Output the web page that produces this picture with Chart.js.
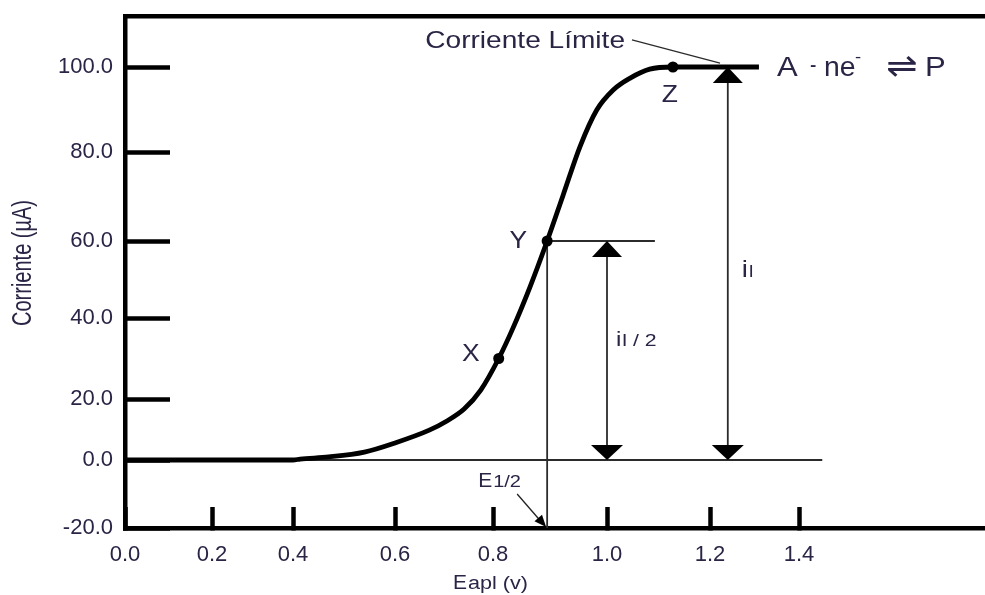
<!DOCTYPE html>
<html>
<head>
<meta charset="utf-8">
<title>Onda polarográfica</title>
<script src="https://cdn.jsdelivr.net/npm/chart.js@4.4.0/dist/chart.umd.min.js"></script>
<style>
  html, body { margin: 0; padding: 0; background: #fff; }
  canvas { display: block; }
</style>
</head>
<body>
<canvas id="waveChart" width="985" height="595"></canvas>
<script>
// Curva corriente / potencial aplicado
const potential = [0, 0.2, 0.4, 0.414, 0.47, 0.54, 0.60, 0.67, 0.706, 0.741, 0.775, 0.81, 0.835, 0.865, 0.895, 0.923, 0.953, 0.982, 1.012, 1.045, 1.083, 1.128, 1.18, 1.31];
const current   = [0, 0, 0, 0.3, 1.0, 2.6, 5.6, 9.8, 12.8, 16.7, 22.2, 30, 37.5, 48.1, 60, 70.3, 81.4, 89.9, 94.6, 97.4, 99.5, 100, 100, 100];

// Puntos marcados sobre la curva
const pointNames = ['X', 'Y', 'Z'];
const pointE = [0.81, 0.895, 1.128];
const pointI = [30, 60, 100];

// Marcas de los ejes
const xTicks = [0, 0.2, 0.4, 0.6, 0.8, 1.0, 1.2, 1.4];
const yTicks = [-20, 0, 20, 40, 60, 80, 100];

// Potencial de media onda, corriente límite y semicorriente
const eHalf = 0.895;
const iHalf = 60;
const iLimit = 100;
const arrowE = [1.0, 1.24];     // flechas i_l/2 e i_l
const baseEnd = 1.45;           // fin de la línea i = 0
const halfLineEnd = 1.093;      // fin de la línea i = 60
const leaderFrom = [1.0485, 106.4];
const leaderTo = [1.2225, 100.9];
const limitLabelAt = [1.035, 104.5];
const ilHalfLabelAt = [1.0, 33];
const ilLabelAt = [1.24, 50.6];

// Área de dibujo y reparto no uniforme de las escalas (px de cada valor)
const plot = { left: 125, right: 985, top: 16, bottom: 528 };
const xWarp = { values: [0, 0.2, 0.4, 0.6, 0.8, 1.0, 1.2, 1.4, 1.8], px: [125, 212, 293, 395, 493, 607, 710, 799, 985] };
const yWarp = { values: [-20, 0, 20, 40, 60, 80, 100, 112], px: [528, 460, 399, 318, 241, 152, 67, 16] };

const family = "'Liberation Sans', Arial, sans-serif";
const textColor = '#2a2445';
const frameWidth = 4.5;

function interp(v, xs, ys) {
    let i = 1;
    while (i < xs.length - 1 && v > xs[i]) i++;
    const t = (v - xs[i - 1]) / (xs[i] - xs[i - 1]);
    return ys[i - 1] + t * (ys[i] - ys[i - 1]);
}

// Escala lineal por tramos
class WarpScale extends Chart.LinearScale {
    warp() {
        const w = this.axis === 'x' ? xWarp : yWarp;
        if (!w.dec) {
            w.dec = w.px.map(p => this.axis === 'x'
                ? (p - plot.left) / (plot.right - plot.left)
                : (plot.bottom - p) / (plot.bottom - plot.top));
        }
        return w;
    }
    getPixelForValue(value) {
        if (value === null || value === undefined || isNaN(value)) return NaN;
        const w = this.warp();
        return this.getPixelForDecimal(interp(value, w.values, w.dec));
    }
    getValueForPixel(pixel) {
        const w = this.warp();
        return interp(this.getDecimalForPixel(pixel), w.dec, w.values);
    }
}
WarpScale.id = 'warp';
WarpScale.defaults = {};
Chart.register(WarpScale);

function noPadding(s) {
    s.paddingLeft = s.paddingRight = s.paddingTop = s.paddingBottom = 0;
}

function line(c, x1, y1, x2, y2) {
    c.beginPath();
    c.moveTo(x1, y1);
    c.lineTo(x2, y2);
    c.stroke();
}

// punta de flecha con vértice en (x, y) apuntando según el ángulo
function head(c, x, y, angle, len, half) {
    c.save();
    c.translate(x, y);
    c.rotate(angle);
    c.beginPath();
    c.moveTo(0, 0);
    c.lineTo(-len, -half);
    c.lineTo(-len, half);
    c.closePath();
    c.fill();
    c.restore();
}

function text(c, str, x, y, size, opts = {}) {
    c.save();
    c.translate(x, y);
    c.scale(opts.sx || 1.15, 1);
    c.font = (opts.weight || 'normal') + ' ' + size + 'px ' + (opts.family || family);
    c.textAlign = opts.align || 'left';
    c.textBaseline = opts.baseline || 'alphabetic';
    c.fillStyle = opts.color || textColor;
    c.fillText(str, 0, 0);
    const w = c.measureText(str).width * (opts.sx || 1.15);
    c.restore();
    return w;
}

const annotations = {
    id: 'annotations',
    beforeDatasetsDraw(chart) {
        const { ctx: c, scales: { x, y } } = chart;
        const px = v => x.getPixelForValue(v);
        const py = v => y.getPixelForValue(v);
        c.save();
        c.strokeStyle = '#2b2b2b';
        c.fillStyle = '#000';
        c.lineWidth = 1.8;

        line(c, px(0), py(0), px(baseEnd), py(0));
        line(c, px(eHalf), py(iHalf), px(eHalf), py(-20));
        line(c, px(eHalf), py(iHalf), px(halfLineEnd), py(iHalf));

        [[arrowE[0], iHalf], [arrowE[1], iLimit]].forEach(([e, top]) => {
            const ax = px(e);
            line(c, ax, py(top) + 4, ax, py(0) - 4);
            head(c, ax, py(top), -Math.PI / 2, 16, 15);
            head(c, ax, py(0), Math.PI / 2, 15, 16);
        });

        c.lineWidth = 1.2;
        line(c, px(leaderFrom[0]), py(leaderFrom[1]), px(leaderTo[0]), py(leaderTo[1]));
        c.restore();
    },
    afterDatasetsDraw(chart) {
        const { ctx: c, scales: { x, y } } = chart;
        const px = v => x.getPixelForValue(v);
        const py = v => y.getPixelForValue(v);
        c.save();

        // X, Y, Z
        const offsets = [[-19, 2, 'right'], [-20, 7, 'right'], [-3, 35, 'center']];
        pointNames.forEach((name, i) => {
            const [dx, dy, align] = offsets[i];
            text(c, name, px(pointE[i]) + dx, py(pointI[i]) + dy, 23, { align });
        });

        text(c, 'Corriente Límite', px(limitLabelAt[0]), py(limitLabelAt[1]), 24, { align: 'right', sx: 1.17 });

        // A - ne⁻ ⇌ P
        const ex = px(1.31), ey = py(iLimit);
        text(c, 'A', ex + 18, ey + 9, 27);
        text(c, '-', ex + 51, ey + 5, 24, { sx: 0.8 });
        text(c, 'ne', ex + 65, ey + 9, 27, { sx: 1.05 });
        text(c, '-', ex + 96, ey - 5, 16);
        text(c, '\u21CC', ex + 127, ey + 1, 34, { family: "'DejaVu Sans', sans-serif", baseline: 'middle', sx: 1.1 });
        text(c, 'P', ex + 166, ey + 9, 27);

        // i_l/2 e i_l
        let ix = px(ilHalfLabelAt[0]) + 9, iy = py(ilHalfLabelAt[1]);
        ix += text(c, 'i', ix, iy, 21);
        text(c, 'l / 2', ix + 1, iy, 17, { sx: 1.25 });
        ix = px(ilLabelAt[0]) + 14; iy = py(ilLabelAt[1]);
        ix += text(c, 'i', ix, iy, 24);
        text(c, 'l', ix + 1, iy, 17);

        // E1/2 con flecha hacia el eje
        const tx = px(eHalf), ty = py(-20);
        const w = text(c, 'E', tx - 69, ty - 41, 21, { sx: 1.0 });
        text(c, '1/2', tx - 69 + w + 1, ty - 41, 16, { sx: 1.25 });
        c.strokeStyle = '#222';
        c.fillStyle = '#000';
        c.lineWidth = 1.3;
        line(c, tx - 30, ty - 34, tx - 4, ty - 4);
        head(c, tx - 1, ty - 1, Math.atan2(33, 29), 12, 5);

        // títulos de los ejes
        const ew = text(c, 'E', 453, 589, 21, { sx: 1.0 });
        text(c, 'apl (v)', 453 + ew + 1, 589, 18, { sx: 1.2 });

        c.translate(24, 263);
        c.rotate(-Math.PI / 2);
        c.scale(0.74, 1);
        c.font = '27px ' + family;
        c.textAlign = 'center';
        c.textBaseline = 'middle';
        c.fillStyle = textColor;
        c.fillText('Corriente (\u00B5A)', 0, 0);
        c.restore();
    }
};

const ctx = document.getElementById('waveChart').getContext('2d');
new Chart(ctx, {
    type: 'line',
    data: {
        datasets: [{
            data: potential.map((e, i) => ({ x: e, y: current[i] })),
            borderColor: '#000',
            borderWidth: 4.8,
            pointRadius: 0,
            cubicInterpolationMode: 'monotone',
            fill: false,
            order: 2
        }, {
            type: 'scatter',
            data: pointE.map((e, i) => ({ x: e, y: pointI[i] })),
            pointRadius: 5.5,
            pointBackgroundColor: '#000',
            pointBorderWidth: 0,
            order: 1
        }]
    },
    options: {
        responsive: false,
        animation: false,
        layout: { padding: { left: 0, right: 0, top: plot.top, bottom: 0 }, autoPadding: false },
        plugins: { legend: { display: false }, tooltip: { enabled: false } },
        scales: {
            x: {
                type: 'warp',
                position: 'bottom',
                min: 0,
                max: 1.8,
                border: { color: '#000', width: frameWidth },
                grid: { display: true, drawOnChartArea: false, drawTicks: true, tickLength: -21, tickWidth: frameWidth, tickColor: '#000' },
                ticks: {
                    font: { family: family, size: 22 },
                    color: textColor,
                    padding: 35,
                    maxRotation: 0,
                    autoSkip: false,
                    callback: v => Number(v).toFixed(1)
                },
                afterBuildTicks: s => { s.ticks = xTicks.map(v => ({ value: v })); },
                afterFit: s => { s.height = 595 - plot.bottom; noPadding(s); }
            },
            y: {
                type: 'warp',
                min: -20,
                max: 112,
                border: { color: '#000', width: frameWidth },
                grid: { display: true, drawOnChartArea: false, drawTicks: true, tickLength: -45, tickWidth: frameWidth, tickColor: '#000' },
                ticks: {
                    font: { family: family, size: 22 },
                    color: textColor,
                    padding: 57,
                    callback: v => Number(v).toFixed(1)
                },
                afterBuildTicks: s => { s.ticks = yTicks.map(v => ({ value: v })); },
                afterFit: s => { s.width = plot.left; noPadding(s); }
            },
            top: {
                type: 'linear',
                position: 'top',
                grid: { display: false, drawTicks: false },
                ticks: { display: false },
                border: { color: '#000', width: frameWidth },
                afterFit: s => { s.height = 0; noPadding(s); }
            }
        }
    },
    plugins: [annotations]
});
</script>
</body>
</html>
